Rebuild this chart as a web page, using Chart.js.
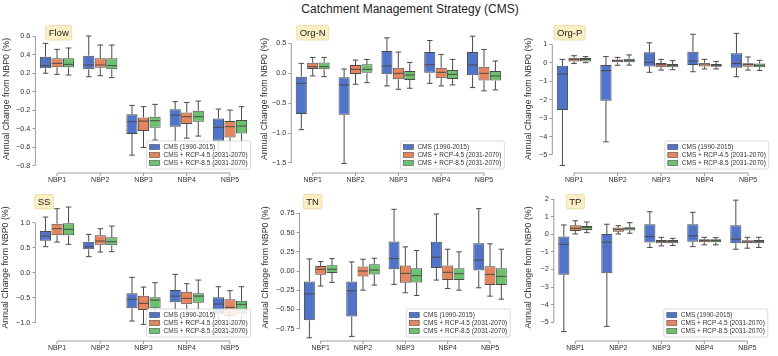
<!DOCTYPE html>
<html>
<head>
<meta charset="utf-8">
<script src="https://cdn.jsdelivr.net/npm/chart.js@4.4.1/dist/chart.umd.min.js"></script>
<style>
  html, body { margin: 0; padding: 0; background: #fff; }
  #wrap { position: relative; width: 778px; height: 356px; overflow: hidden; }
  #wrap canvas { position: absolute; left: 0; top: 0; }
  #title {
    position: absolute; left: 410px; top: 2px; transform: translateX(-50%);
    white-space: nowrap; font: 12px 'Liberation Sans', Arial, sans-serif; color: #222;
  }
</style>
</head>
<body>
<div id="wrap">
  <div id="title">Catchment Management Strategy (CMS)</div>
</div>
<script>
// box stats per category: [whisker low, q1, median, q3, whisker high]
var categories = ['NBP1', 'NBP2', 'NBP3', 'NBP4', 'NBP5'];
var seriesNames = ['CMS (1990-2015)', 'CMS + RCP-4.5 (2031-2070)', 'CMS + RCP-8.5 (2031-2070)'];

var flowCms = [[0.20, 0.253, 0.282, 0.379, 0.523], [0.162, 0.242, 0.289, 0.39, 0.603], [-0.686, -0.458, -0.325, -0.245, -0.148], [-0.64, -0.379, -0.253, -0.191, -0.108], [-0.78, -0.531, -0.386, -0.289, -0.188]];
var flowRcp45 = [[0.188, 0.264, 0.307, 0.361, 0.458], [0.173, 0.26, 0.289, 0.361, 0.505], [-0.603, -0.426, -0.318, -0.278, -0.162], [-0.502, -0.35, -0.271, -0.224, -0.116], [-0.72, -0.495, -0.379, -0.318, -0.199]];
var flowRcp85 = [[0.18, 0.264, 0.296, 0.361, 0.473], [0.152, 0.242, 0.282, 0.361, 0.505], [-0.523, -0.39, -0.314, -0.271, -0.137], [-0.48, -0.325, -0.271, -0.206, -0.101], [-0.66, -0.451, -0.372, -0.307, -0.162]];

var orgnCms = [[-0.944, -0.683, -0.167, -0.056, 0.167], [-1.511, -0.694, -0.194, -0.067, 0.072], [-0.211, -0.017, 0.122, 0.372, 0.594], [-0.167, 0.0, 0.144, 0.356, 0.55], [-0.239, -0.033, 0.139, 0.356, 0.622]];
var orgnRcp45 = [[-0.044, 0.072, 0.111, 0.178, 0.267], [-0.183, -0.011, 0.067, 0.139, 0.222], [-0.267, -0.1, 0.0, 0.094, 0.356], [-0.211, -0.083, 0.017, 0.094, 0.317], [-0.294, -0.122, 0.0, 0.111, 0.4]];
var orgnRcp85 = [[-0.056, 0.067, 0.111, 0.183, 0.267], [-0.156, 0.0, 0.067, 0.15, 0.233], [-0.25, -0.111, -0.028, 0.039, 0.183], [-0.194, -0.094, -0.017, 0.056, 0.233], [-0.278, -0.122, -0.044, 0.039, 0.206]];

var orgpCms = [[-5.57, -2.57, -0.615, -0.163, 0.18], [-4.29, -2.06, -0.43, -0.13, 0.33], [-0.52, -0.2, 0.02, 0.56, 1.08], [-0.49, -0.13, 0.09, 0.6, 1.54], [-0.76, -0.27, -0.04, 0.51, 1.59]];
var orgpRcp45 = [[-0.04, 0.07, 0.18, 0.27, 0.38], [-0.14, 0.0, 0.11, 0.18, 0.29], [-0.4, -0.24, -0.11, -0.02, 0.18], [-0.34, -0.2, -0.07, 0.0, 0.18], [-0.4, -0.22, -0.09, 0.0, 0.31]];
var orgpRcp85 = [[0.0, 0.07, 0.18, 0.25, 0.33], [-0.13, 0.02, 0.13, 0.22, 0.42], [-0.38, -0.24, -0.14, -0.07, 0.11], [-0.34, -0.22, -0.14, -0.07, 0.07], [-0.42, -0.24, -0.14, -0.05, 0.13]];

var ssCms = [[0.52, 0.64, 0.733, 0.833, 1.113], [0.32, 0.467, 0.52, 0.62, 0.767], [-0.967, -0.713, -0.533, -0.413, -0.093], [-0.95, -0.593, -0.467, -0.347, -0.033], [-1.2, -0.833, -0.627, -0.493, -0.28]];
var ssRcp45 = [[0.613, 0.747, 0.88, 0.98, 1.28], [0.413, 0.56, 0.633, 0.747, 0.88], [-1.033, -0.747, -0.613, -0.46, -0.287], [-1.0, -0.633, -0.513, -0.38, -0.22], [-1.22, -0.867, -0.693, -0.533, -0.36]];
var ssRcp85 = [[0.567, 0.747, 0.867, 0.987, 1.313], [0.42, 0.547, 0.62, 0.707, 0.933], [-1.027, -0.713, -0.547, -0.493, -0.2], [-0.95, -0.6, -0.467, -0.413, -0.147], [-1.15, -0.833, -0.633, -0.56, -0.28]];

var tnCms = [[-0.868, -0.641, -0.297, -0.135, 0.157], [-0.85, -0.593, -0.257, -0.135, 0.118], [-0.174, 0.022, 0.161, 0.384, 0.802], [-0.118, 0.039, 0.179, 0.379, 0.741], [-0.218, 0.0, 0.14, 0.362, 0.811]];
var tnRcp45 = [[-0.196, -0.048, 0.022, 0.065, 0.122], [-0.249, -0.07, 0.0, 0.057, 0.153], [-0.283, -0.153, -0.031, 0.07, 0.314], [-0.227, -0.118, -0.017, 0.07, 0.283], [-0.327, -0.183, -0.044, 0.061, 0.353]];
var tnRcp85 = [[-0.148, -0.026, 0.022, 0.074, 0.161], [-0.183, -0.044, 0.013, 0.087, 0.166], [-0.318, -0.148, -0.061, 0.035, 0.266], [-0.249, -0.118, -0.035, 0.035, 0.249], [-0.366, -0.183, -0.07, 0.035, 0.283]];

var tpCms = [[-5.53, -2.3, -0.57, -0.13, 0.53], [-5.23, -2.21, -0.45, 0.02, 0.57], [-0.75, -0.47, -0.13, 0.57, 1.28], [-0.7, -0.42, -0.09, 0.57, 1.25], [-0.85, -0.51, -0.28, 0.51, 1.94]];
var tpRcp45 = [[0.02, 0.19, 0.34, 0.51, 0.77], [0.02, 0.15, 0.28, 0.38, 0.49], [-0.66, -0.51, -0.4, -0.32, -0.17], [-0.6, -0.45, -0.36, -0.28, -0.17], [-0.79, -0.51, -0.43, -0.34, -0.17]];
var tpRcp85 = [[0.09, 0.25, 0.4, 0.47, 0.7], [0.06, 0.21, 0.32, 0.4, 0.66], [-0.64, -0.51, -0.42, -0.32, -0.23], [-0.6, -0.45, -0.36, -0.28, -0.19], [-0.75, -0.51, -0.42, -0.32, -0.17]];

var flowTicks = ['0.6', '0.4', '0.2', '0.0', '\u22120.2', '\u22120.4', '\u22120.6', '\u22120.8'];
var orgnTicks = ['0.5', '0.0', '\u22120.5', '\u22121.0', '\u22121.5'];
var orgpTicks = ['1', '0', '\u22121', '\u22122', '\u22123', '\u22124', '\u22125'];
var ssTicks = ['1.0', '0.5', '0.0', '\u22120.5', '\u22121.0'];
var tnTicks = ['0.75', '0.50', '0.25', '0.00', '\u22120.25', '\u22120.50', '\u22120.75'];
var tpTicks = ['2', '1', '0', '\u22121', '\u22122', '\u22123', '\u22124', '\u22125'];

var COLORS = ['#5074c9', '#e6845b', '#6ac26c'];
var LINE = '#4a4a4a';
var SPINE = '#9a9a9a';
var FONT = "'Liberation Sans', Arial, sans-serif";
var X_AXIS_H = 14;

// page-pixel layout of each panel's plot area
var panels = [
  { name: 'Flow', series: [flowCms, flowRcp45, flowRcp85], ticks: flowTicks, yMin: -0.858, yMax: 0.70,
    left: 35.4, right: 251.6, top: 27, bottom: 171, axisW: 35, labelX: 45.7 },
  { name: 'Org-N', series: [orgnCms, orgnRcp45, orgnRcp85], ticks: orgnTicks, yMin: -1.636, yMax: 0.776,
    left: 291.3, right: 505.4, top: 27, bottom: 171, axisW: 33, labelX: 296.7 },
  { name: 'Org-P', series: [orgpCms, orgpRcp45, orgpRcp85], ticks: orgpTicks, yMin: -5.87, yMax: 1.935,
    left: 552.3, right: 769.8, top: 27, bottom: 171, axisW: 29.5, labelX: 554 },
  { name: 'SS', series: [ssCms, ssRcp45, ssRcp85], ticks: ssTicks, yMin: -1.326, yMax: 1.534,
    left: 35.4, right: 251.6, top: 196, bottom: 339, axisW: 36, labelX: 34.7 },
  { name: 'TN', series: [tnCms, tnRcp45, tnRcp85], ticks: tnTicks, yMin: -0.884, yMax: 0.975,
    left: 299.5, right: 511.2, top: 196, bottom: 339, axisW: 40, labelX: 303.3 },
  { name: 'TP', series: [tpCms, tpRcp45, tpRcp85], ticks: tpTicks, yMin: -5.95, yMax: 2.176,
    left: 553.8, right: 768.8, top: 196, bottom: 339, axisW: 31, labelX: 566.3 }
];

function tickValue(label) {
  return parseFloat(label.replace('\u2212', '-'));
}

function roundRect(ctx, x, y, w, h, r) {
  ctx.beginPath();
  ctx.moveTo(x + r, y);
  ctx.arcTo(x + w, y, x + w, y + h, r);
  ctx.arcTo(x + w, y + h, x, y + h, r);
  ctx.arcTo(x, y + h, x, y, r);
  ctx.arcTo(x, y, x + w, y, r);
  ctx.closePath();
}

var boxPlotPlugin = {
  id: 'boxplot',
  afterDatasetsDraw: function (chart) {
    var ctx = chart.ctx;
    var y = chart.scales.y;
    ctx.save();
    ctx.strokeStyle = LINE;
    ctx.lineWidth = 1;
    chart.data.datasets.forEach(function (ds, i) {
      chart.getDatasetMeta(i).data.forEach(function (bar, j) {
        var s = ds.stats[j];
        var x = bar.x, half = bar.width / 2, cap = bar.width / 4;
        var lo = y.getPixelForValue(s[0]), q1 = y.getPixelForValue(s[1]);
        var med = y.getPixelForValue(s[2]), q3 = y.getPixelForValue(s[3]);
        var hi = y.getPixelForValue(s[4]);
        ctx.beginPath();
        ctx.moveTo(x, q1); ctx.lineTo(x, lo);
        ctx.moveTo(x - cap, lo); ctx.lineTo(x + cap, lo);
        ctx.moveTo(x, q3); ctx.lineTo(x, hi);
        ctx.moveTo(x - cap, hi); ctx.lineTo(x + cap, hi);
        ctx.moveTo(x - half + 0.5, med); ctx.lineTo(x + half - 0.5, med);
        ctx.stroke();
      });
    });
    ctx.restore();
  },
  afterDraw: function (chart) {
    var p = chart.options.plugins.boxplot.panel;
    var ctx = chart.ctx, area = chart.chartArea;
    var x = chart.scales.x, y = chart.scales.y;
    ctx.save();

    // trimmed spines
    var vals = p.ticks.map(tickValue);
    ctx.strokeStyle = SPINE;
    ctx.lineWidth = 1;
    ctx.beginPath();
    ctx.moveTo(area.left, y.getPixelForValue(Math.max.apply(null, vals)));
    ctx.lineTo(area.left, y.getPixelForValue(Math.min.apply(null, vals)));
    var sy = area.bottom + 2;
    ctx.moveTo(x.getPixelForValue(0), sy);
    ctx.lineTo(x.getPixelForValue(categories.length - 1), sy);
    categories.forEach(function (c, i) {
      var px = x.getPixelForValue(i);
      ctx.moveTo(px, sy);
      ctx.lineTo(px, sy + 3);
    });
    ctx.stroke();

    // legend, lower right
    ctx.font = '6.5px ' + FONT;
    var tw = 0;
    seriesNames.forEach(function (n) { tw = Math.max(tw, ctx.measureText(n).width); });
    var rowH = 8, pad = 3, patchW = 10, patchH = 5;
    var w = pad + patchW + 4 + tw + pad, h = pad * 2 + rowH * 3 - 2;
    var lx = area.right - 1 - w, ly = area.bottom - 2 - h;
    roundRect(ctx, lx, ly, w, h, 2);
    ctx.fillStyle = 'rgba(255,255,255,0.85)';
    ctx.fill();
    ctx.strokeStyle = '#d0d0d0';
    ctx.lineWidth = 0.8;
    ctx.stroke();
    ctx.textBaseline = 'middle';
    seriesNames.forEach(function (n, i) {
      var cy = ly + pad + rowH * i + rowH / 2 - 1;
      ctx.fillStyle = COLORS[i];
      ctx.fillRect(lx + pad, cy - patchH / 2, patchW, patchH);
      ctx.strokeStyle = LINE;
      ctx.lineWidth = 0.6;
      ctx.strokeRect(lx + pad, cy - patchH / 2, patchW, patchH);
      ctx.fillStyle = '#333';
      ctx.fillText(n, lx + pad + patchW + 4, cy);
    });

    // panel name badge
    ctx.font = '9.5px ' + FONT;
    var bw = ctx.measureText(p.name).width + 6, bh = 14.5;
    var by = area.top - 1.5;
    roundRect(ctx, p.labelX, by, bw, bh, 1.5);
    ctx.fillStyle = '#fcefc6';
    ctx.fill();
    ctx.strokeStyle = '#ead9a4';
    ctx.lineWidth = 0.8;
    ctx.stroke();
    ctx.fillStyle = '#222';
    ctx.fillText(p.name, p.labelX + 3, by + bh / 2 + 0.5);
    ctx.restore();
  }
};

var wrap = document.getElementById('wrap');

panels.forEach(function (p) {
  var canvas = document.createElement('canvas');
  canvas.width = 778;
  canvas.height = 356;
  wrap.appendChild(canvas);

  var tickVals = p.ticks.map(tickValue);

  new Chart(canvas, {
    type: 'bar',
    data: {
      labels: categories,
      datasets: p.series.map(function (stats, i) {
        return {
          label: seriesNames[i],
          stats: stats,
          data: stats.map(function (s) { return [s[1], s[3]]; }),
          backgroundColor: COLORS[i],
          borderColor: LINE,
          borderWidth: 1,
          borderSkipped: false,
          categoryPercentage: 0.8,
          barPercentage: 0.97
        };
      })
    },
    options: {
      responsive: false,
      animation: false,
      events: [],
      layout: {
        padding: {
          left: p.left - p.axisW,
          right: 778 - p.right,
          top: p.top,
          bottom: 356 - p.bottom - X_AXIS_H
        }
      },
      plugins: {
        legend: { display: false },
        tooltip: { enabled: false },
        boxplot: { panel: p }
      },
      scales: {
        x: {
          offset: true,
          grid: { display: false, drawTicks: false },
          border: { display: false },
          ticks: { color: '#333', font: { family: FONT, size: 7 }, padding: 4.5, maxRotation: 0 },
          afterFit: function (s) { s.height = X_AXIS_H; }
        },
        y: {
          min: p.yMin,
          max: p.yMax,
          grid: { drawOnChartArea: false, tickLength: 3, color: SPINE, lineWidth: 1 },
          border: { display: false },
          ticks: {
            color: '#333',
            font: { family: FONT, size: 7.3 },
            padding: 2,
            callback: function (v) {
              var k = tickVals.indexOf(v);
              return k >= 0 ? p.ticks[k] : '';
            }
          },
          afterBuildTicks: function (s) {
            s.ticks = tickVals.slice().sort(function (a, b) { return a - b; })
              .map(function (v) { return { value: v }; });
          },
          afterFit: function (s) { s.width = p.axisW; },
          title: {
            display: true,
            text: 'Annual Change from NBP0 (%)',
            color: '#333',
            font: { family: FONT, size: 8.8 },
            padding: { top: 0.5, bottom: 0 }
          }
        }
      }
    },
    plugins: [boxPlotPlugin]
  });
});
</script>
</body>
</html>
